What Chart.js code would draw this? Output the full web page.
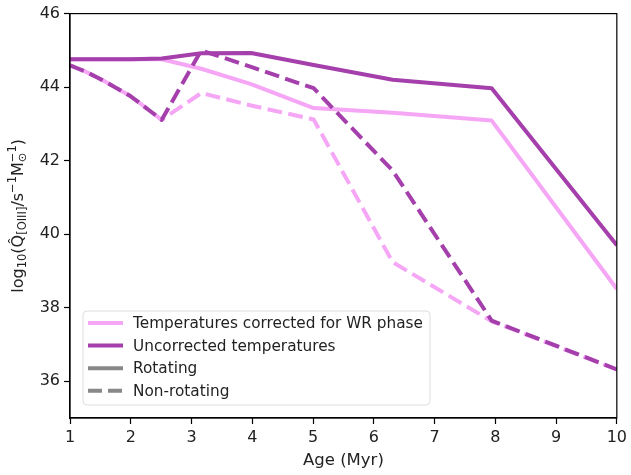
<!DOCTYPE html>
<html>
<head>
<meta charset="utf-8">
<script src="https://cdn.jsdelivr.net/npm/chart.js@4"></script>
<style>
  html, body { margin: 0; padding: 0; background: #fff; }
  #wrap { width: 631px; height: 475px; position: relative; }
</style>
</head>
<body>
<div id="wrap"><canvas id="c" width="631" height="475"></canvas></div>
<script>
// ---- data ----
const ages = [1.0, 1.26, 1.58, 2.0, 2.51, 3.16, 3.98, 5.01, 6.31, 7.94, 10.0];
const uncorrectedRotating    = [44.76, 44.76, 44.76, 44.76, 44.78, 44.92, 44.93, 44.60, 44.20, 43.97, 39.70];
const correctedRotating      = [44.76, 44.76, 44.76, 44.76, 44.76, 44.50, 44.08, 43.43, 43.30, 43.09, 38.51];
const uncorrectedNonRotating = [44.59, 44.42, 44.15, 43.75, 43.11, 45.00, 44.55, 43.97, 41.73, 37.65, 36.32];
const correctedNonRotating   = [44.59, 44.42, 44.15, 43.75, 43.11, 43.84, 43.50, 43.12, 39.24, 37.63, 36.32];
const xTicks = [1, 2, 3, 4, 5, 6, 7, 8, 9, 10];
const yTicks = [36, 38, 40, 42, 44, 46];
const legendLabels = ['Temperatures corrected for WR phase', 'Uncorrected temperatures', 'Rotating', 'Non-rotating'];

const LIGHT = '#f5a6f5';
const DARK = '#a43fac';
const GREY = '#888888';
const DASH = [14.8, 6.4];
const FONT = "'DejaVu Sans', sans-serif";

function pts(ys) { return ages.map((a, i) => ({ x: a, y: ys[i] })); }

const frameAndLegend = {
  id: 'frameAndLegend',
  afterDraw(chart) {
    const ctx = chart.ctx;
    const a = chart.chartArea;
    ctx.save();
    // full box frame
    ctx.strokeStyle = '#000';
    ctx.lineWidth = 1.2;
    ctx.strokeRect(a.left, a.top, a.right - a.left, a.bottom - a.top);

    // legend box (lower left inside axes)
    const bx = a.left + 13, by = a.bottom - 107, bw = 347, bh = 94, r = 4;
    ctx.beginPath();
    ctx.moveTo(bx + r, by);
    ctx.lineTo(bx + bw - r, by); ctx.quadraticCurveTo(bx + bw, by, bx + bw, by + r);
    ctx.lineTo(bx + bw, by + bh - r); ctx.quadraticCurveTo(bx + bw, by + bh, bx + bw - r, by + bh);
    ctx.lineTo(bx + r, by + bh); ctx.quadraticCurveTo(bx, by + bh, bx, by + bh - r);
    ctx.lineTo(bx, by + r); ctx.quadraticCurveTo(bx, by, bx + r, by);
    ctx.closePath();
    ctx.fillStyle = 'rgba(255,255,255,0.85)';
    ctx.fill();
    ctx.strokeStyle = '#dedede';
    ctx.lineWidth = 1;
    ctx.stroke();

    const colors = [LIGHT, DARK, GREY, GREY];
    const dashes = [[], [], [], [14, 6]];
    ctx.font = '15.3px ' + FONT;
    ctx.textBaseline = 'middle';
    ctx.textAlign = 'left';
    for (let i = 0; i < legendLabels.length; i++) {
      const yy = by + 12 + i * 22.6;
      ctx.beginPath();
      ctx.setLineDash(dashes[i]);
      ctx.strokeStyle = colors[i];
      ctx.lineWidth = 4;
      ctx.moveTo(bx + 5, yy);
      ctx.lineTo(bx + 40, yy);
      ctx.stroke();
      ctx.setLineDash([]);
      ctx.fillStyle = '#222';
      ctx.fillText(legendLabels[i], bx + 50, yy + 1);
    }

    // y-axis title with sub/superscripts
    ctx.translate(18, (a.top + a.bottom) / 2);
    ctx.rotate(-Math.PI / 2);
    const big = 16, small = 11.5;
    const parts = [
      { t: 'log', s: big, dy: 0 },
      { t: '10', s: small, dy: 4 },
      { t: '(Q\u0302', s: big, dy: 0 },
      { t: '[OIII]', s: small, dy: 4 },
      { t: '/s', s: big, dy: 0 },
      { t: '\u22121', s: small, dy: -6 },
      { t: 'M', s: big, dy: 0 },
      { t: '\u2299', s: small, dy: 4, stackWith: '\u22121' },
      { t: ')', s: big, dy: 0 }
    ];
    let total = 0;
    const widths = parts.map(p => {
      ctx.font = p.s + 'px ' + FONT;
      let w = ctx.measureText(p.t).width;
      if (p.stackWith) w = Math.max(w, ctx.measureText(p.stackWith).width);
      total += w;
      return w;
    });
    let x = -total / 2;
    ctx.fillStyle = '#222';
    ctx.textBaseline = 'middle';
    ctx.textAlign = 'left';
    parts.forEach((p, i) => {
      ctx.font = p.s + 'px ' + FONT;
      ctx.fillText(p.t, x, p.dy + 1);
      if (p.stackWith) ctx.fillText(p.stackWith, x, -6 + 1);
      x += widths[i];
    });
    ctx.restore();
  }
};

const ds = (label, data, color, dashed, offset) => ({
  label, data: pts(data), borderColor: color, backgroundColor: color,
  borderWidth: 4, borderDash: dashed ? DASH : [], borderDashOffset: offset || 0,
  pointRadius: 0, tension: 0, fill: false, borderJoinStyle: 'round', borderCapStyle: 'butt'
});

new Chart(document.getElementById('c'), {
  type: 'line',
  data: {
    datasets: [
      ds('Uncorrected, rotating', uncorrectedRotating, DARK, false),
      ds('Uncorrected, non-rotating', uncorrectedNonRotating, DARK, true),
      ds('Corrected, rotating', correctedRotating, LIGHT, false),
      ds('Corrected, non-rotating', correctedNonRotating, LIGHT, true, 10)
    ]
  },
  options: {
    responsive: false,
    animation: false,
    devicePixelRatio: 1,
    layout: { padding: { top: 10, right: 11, left: 0, bottom: 0 } },
    plugins: { legend: { display: false }, tooltip: { enabled: false } },
    scales: {
      x: {
        type: 'linear', min: 1, max: 10,
        afterBuildTicks: s => { s.ticks = xTicks.map(v => ({ value: v })); },
        afterFit: s => { s.height = 57; },
        grid: { display: true, drawOnChartArea: false, drawTicks: true, tickLength: 6, color: '#000', tickWidth: 1.2 },
        border: { display: true, color: '#000', width: 1.2 },
        ticks: { font: { family: FONT, size: 16 }, color: '#222', padding: 4, maxRotation: 0 },
        title: { display: true, text: 'Age (Myr)', font: { family: FONT, size: 16.5 }, color: '#222', padding: { top: 2, bottom: 4 } }
      },
      y: {
        type: 'linear', min: 35, max: 46,
        afterBuildTicks: s => { s.ticks = yTicks.map(v => ({ value: v })); },
        afterFit: s => { s.width = 70; },
        grid: { display: true, drawOnChartArea: false, drawTicks: true, tickLength: 6, color: '#000', tickWidth: 1.2 },
        border: { display: true, color: '#000', width: 1.2 },
        ticks: { font: { family: FONT, size: 16 }, color: '#222', padding: 4 }
      }
    }
  },
  plugins: [frameAndLegend]
});
</script>
</body>
</html>
